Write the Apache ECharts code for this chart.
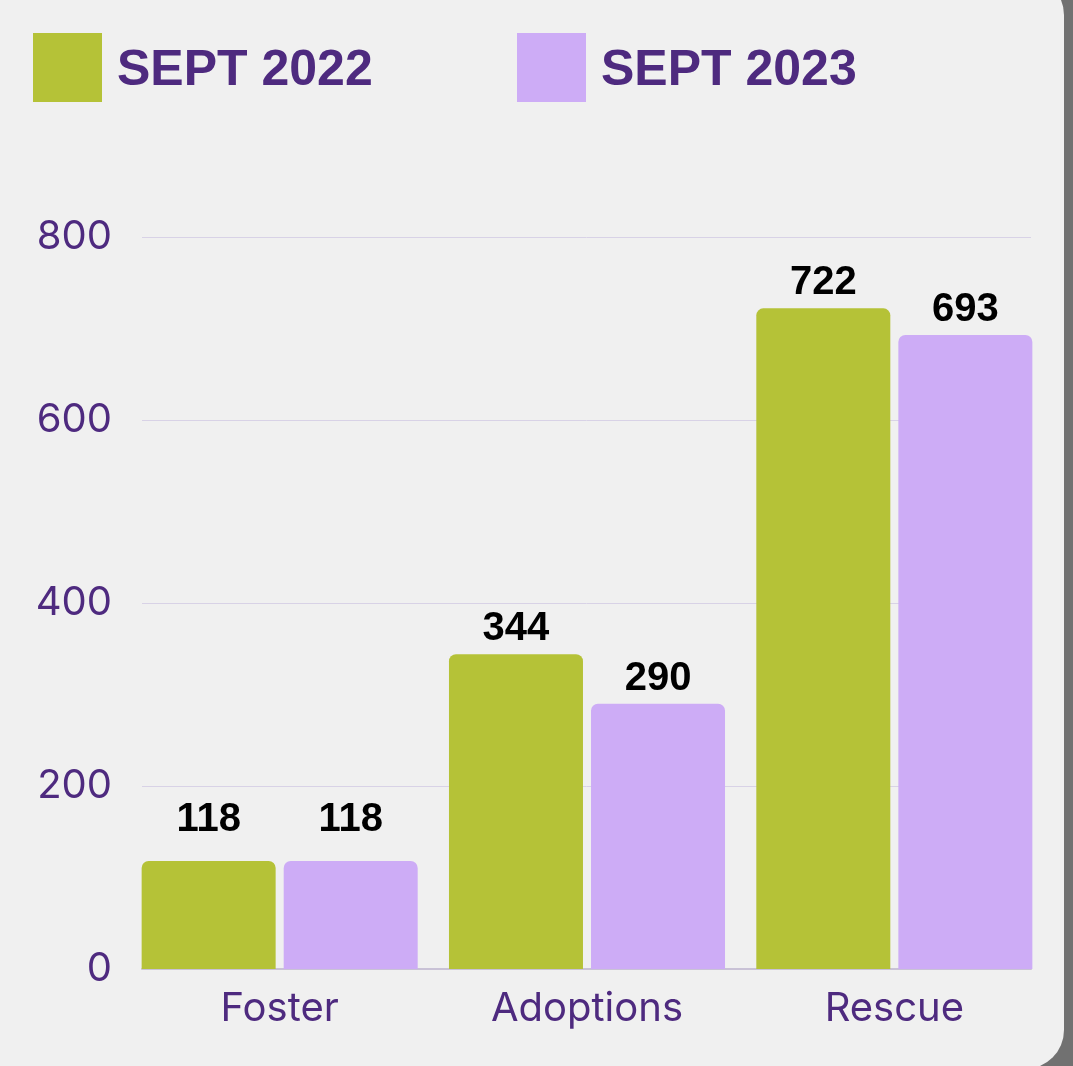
<!DOCTYPE html>
<html>
<head>
<meta charset="utf-8">
<script src="https://cdn.jsdelivr.net/npm/echarts@6/dist/echarts.min.js"></script>
<style>
  html, body { margin: 0; padding: 0; background: #717171; }
  #container { width: 1073px; height: 1066px; }
</style>
</head>
<body>
<div id="container"></div>
<script>
// Data
var categories = ['Foster', 'Adoptions', 'Rescue'];
var sept2022 = [118, 344, 722];
var sept2023 = [118, 290, 693];
var yTicks = [0, 200, 400, 600, 800];

var purple = '#4e2a7f';
var green = '#b5c237';
var lilac = '#cdacf6';

var myChart = echarts.init(document.getElementById('container'));

var barLabel = {
    show: true,
    position: 'top',
    distance: 5,
    color: '#000',
    fontFamily: 'Liberation Sans',
    fontWeight: 'bold',
    fontSize: 40,
    lineHeight: 40
};

var legendText = {
    rich: {
        t: {
            color: purple,
            fontFamily: 'Liberation Sans',
            fontWeight: 'bold',
            fontSize: 50,
            padding: [8, 0, 0, 10]
        }
    }
};

// the Foster labels sit higher above their bars in the picture
function withLabels(values) {
    return values.map(function (v, i) {
        return i === 0 ? { value: v, label: { distance: 21 } } : v;
    });
}

var option = {
    backgroundColor: 'transparent',
    animation: false,
    graphic: [{
        type: 'rect',
        z: -10,
        silent: true,
        shape: { x: -50, y: -24, width: 1114, height: 1093, r: [0, 39, 39, 0] },
        style: { fill: '#f0f0f0' }
    }],
    legend: [
        {
            data: ['SEPT 2022'], left: 33, top: 33, padding: 0,
            itemWidth: 69, itemHeight: 69, icon: 'rect',
            formatter: '{t|{name}}', textStyle: legendText
        },
        {
            data: ['SEPT 2023'], left: 517, top: 33, padding: 0,
            itemWidth: 69, itemHeight: 69, icon: 'rect',
            formatter: '{t|{name}}', textStyle: legendText
        }
    ],
    grid: [
        // bars: band spacing as in the picture
        { left: 126, right: 25, top: 237, bottom: 97 },
        // axis line + grid lines
        { left: 142, right: 42, top: 237, bottom: 97 }
    ],
    xAxis: [
        {
            type: 'category', gridIndex: 0, data: categories,
            axisLine: { show: false }, axisTick: { show: false },
            axisLabel: {
                color: purple, fontFamily: 'Inter', fontSize: 40,
                lineHeight: 48, margin: 16
            }
        },
        {
            type: 'category', gridIndex: 1, data: categories,
            axisLine: { lineStyle: { color: '#c9c2d6', width: 2 } },
            axisTick: { show: false }, axisLabel: { show: false }
        }
    ],
    yAxis: [
        {
            type: 'value', gridIndex: 0, min: yTicks[0], max: yTicks[yTicks.length - 1],
            interval: 200, show: false
        },
        {
            type: 'value', gridIndex: 1, min: yTicks[0], max: yTicks[yTicks.length - 1],
            interval: 200,
            axisLine: { show: false }, axisTick: { show: false },
            axisLabel: { color: purple, fontFamily: 'Inter', fontSize: 40, margin: 30 },
            splitLine: { lineStyle: { color: '#d8d2e6', width: 1 } }
        }
    ],
    series: [
        {
            name: 'SEPT 2022', type: 'bar', xAxisIndex: 0, yAxisIndex: 0,
            data: withLabels(sept2022), barWidth: 134, barGap: '6%',
            itemStyle: { color: green, borderRadius: [7, 7, 0, 0] },
            label: barLabel
        },
        {
            name: 'SEPT 2023', type: 'bar', xAxisIndex: 0, yAxisIndex: 0,
            data: withLabels(sept2023), barWidth: 134, barGap: '6%',
            itemStyle: { color: lilac, borderRadius: [7, 7, 0, 0] },
            label: barLabel
        }
    ]
};
myChart.setOption(option);
</script>
</body>
</html>
